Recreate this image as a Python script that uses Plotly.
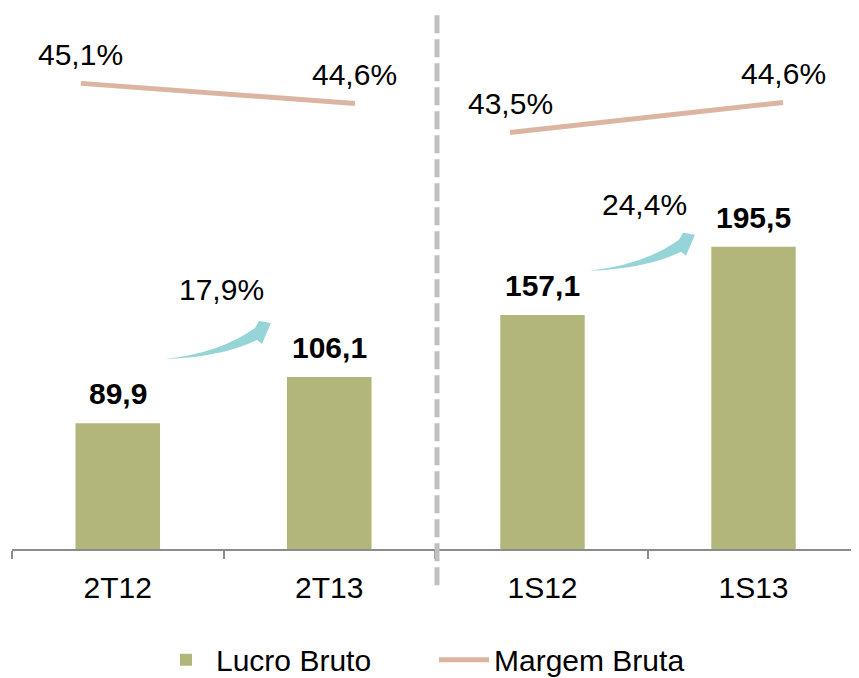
import plotly.graph_objects as go

# Design is expressed in reference-picture pixels (859 x 678).
# The page adds an 8px body margin; the captured picture is ~0.977 of page height.
OFF = 8
SY = 0.977
FW, FH = 843, 678

# ---- data ----
cats_quarter = ["2T12", "2T13"]
cats_semester = ["1S12", "1S13"]
lucro_quarter = [89.9, 106.1]
lucro_semester = [157.1, 195.5]
margem_quarter = [45.1, 44.6]
margem_semester = [43.5, 44.6]
growth = [17.9, 24.4]  # quarter, semester

BAR = "#b2b67a"
LINE = "#dcb5a2"
ARROW = "#95d5d8"
AXIS = "#8c8c8c"
FONT = "Liberation Sans, Arial, sans-serif"


def br(v, pct=False):
    s = f"{v:.1f}".replace(".", ",")
    return s + "%" if pct else s


def FX(x):
    return (x - OFF) / FW


def FY(y):
    return 1 - (y / SY - OFF) / FH


def PXY(d):
    return d / SY


y_dom = [FY(548), FY(10)]
right_end = min(1.0, FX(859))
right_px = (right_end * FW + OFF) - 437  # width of right panel in px

fig = go.Figure()
fig.add_trace(go.Bar(x=cats_quarter, y=lucro_quarter, xaxis="x", yaxis="y",
                     marker=dict(color=BAR, line=dict(width=0)), name="Lucro Bruto",
                     hoverinfo="skip"))
fig.add_trace(go.Bar(x=cats_semester, y=lucro_semester, xaxis="x2", yaxis="y2",
                     marker=dict(color=BAR, line=dict(width=0)), name="Lucro Bruto",
                     showlegend=False, hoverinfo="skip"))
fig.add_trace(go.Scatter(x=cats_quarter, y=margem_quarter, xaxis="x3", yaxis="y3",
                         mode="lines", line=dict(color=LINE, width=5), name="Margem Bruta",
                         hoverinfo="skip"))
fig.add_trace(go.Scatter(x=cats_semester, y=margem_semester, xaxis="x4", yaxis="y4",
                         mode="lines", line=dict(color=LINE, width=5), name="Margem Bruta",
                         showlegend=False, hoverinfo="skip"))

xstyle = dict(type="category", showline=True, linecolor=AXIS,
              linewidth=2, ticks="outside", tickson="boundaries", ticklen=8,
              tickwidth=2, tickcolor=AXIS, showgrid=False, zeroline=False,
              ticklabelstandoff=11,
              tickfont=dict(size=30, color="black", family=FONT), fixedrange=True)

fig.update_layout(
    width=FW, height=FH, autosize=False,
    margin=dict(l=0, r=0, t=0, b=0, pad=0),
    paper_bgcolor="white", plot_bgcolor="white",
    font=dict(family=FONT, color="black", size=30),
    bargap=0.6,
    xaxis=dict(domain=[FX(12), FX(435)], anchor="y", range=[-0.5, 1.5], **xstyle),
    xaxis2=dict(domain=[FX(437), right_end], anchor="y2",
                range=[-0.5, -0.5 + right_px / 211], **xstyle),
    yaxis=dict(domain=y_dom, anchor="x", range=[45.53, 234.97], visible=False),
    yaxis2=dict(domain=y_dom, anchor="x2", range=[25.0, 328.8], visible=False),
    xaxis3=dict(overlaying="x", anchor="y3", type="category",
                range=[-0.2518, 1.292], visible=False),
    yaxis3=dict(overlaying="y", anchor="x3", range=[33.475, 46.925], visible=False),
    xaxis4=dict(overlaying="x2", anchor="y4", type="category",
                range=[-0.2674, -0.2674 + right_px / 273], visible=False),
    yaxis4=dict(overlaying="y2", anchor="x4", range=[28.247, 47.973], visible=False),
    legend=dict(orientation="h", x=FX(156), xanchor="left", y=FY(632), yanchor="top",
                itemwidth=50, entrywidth=213, entrywidthmode="pixels",
                font=dict(size=30, family=FONT, color="black"),
                bgcolor="rgba(0,0,0,0)", traceorder="normal"),
)

ann = []
for cats, vals, xr, yr in [(cats_quarter, lucro_quarter, "x", "y"),
                           (cats_semester, lucro_semester, "x2", "y2")]:
    for c, v in zip(cats, vals):
        ann.append(dict(x=c, y=v, xref=xr, yref=yr, text=f"<b>{br(v)}</b>",
                        showarrow=False, yanchor="bottom", yshift=PXY(11),
                        font=dict(size=30, family=FONT, color="black")))
for cats, vals, xr, yr in [(cats_quarter, margem_quarter, "x3", "y3"),
                           (cats_semester, margem_semester, "x4", "y4")]:
    for c, v in zip(cats, vals):
        ann.append(dict(x=c, y=v, xref=xr, yref=yr, text=br(v, True),
                        showarrow=False, yanchor="bottom", yshift=PXY(10),
                        font=dict(size=30, family=FONT, color="black")))
# growth labels
ann.append(dict(x=0.5, xref="x", y=FY(307), yref="paper", text=br(growth[0], True),
                showarrow=False, yanchor="bottom", xshift=-2,
                font=dict(size=30, family=FONT, color="black")))
ann.append(dict(x=0.5, xref="x2", y=FY(222), yref="paper", text=br(growth[1], True),
                showarrow=False, yanchor="bottom", xshift=-4,
                font=dict(size=30, family=FONT, color="black")))
fig.update_layout(annotations=ann)

# curved growth arrows (decorative)
arrow_rel = [("M", 0, 0), ("Q", 55, -6, 90, -31), ("L", 94, -38), ("L", 106, -36),
             ("L", 97, -15), ("L", 92, -19), ("Q", 57, -2, 0, 0)]


def arrow_path(tx, ty):
    parts = []
    for seg in arrow_rel:
        cmd, nums = seg[0], seg[1:]
        pts = []
        for i in range(0, len(nums), 2):
            pts.append(f"{FX(tx + nums[i]):.5f},{FY(ty + nums[i + 1]):.5f}")
        parts.append(cmd + " " + " ".join(pts))
    return " ".join(parts) + " Z"


shapes = []
for tx, ty in [(165, 358), (589, 270)]:
    shapes.append(dict(type="path", xref="paper", yref="paper", path=arrow_path(tx, ty),
                       fillcolor=ARROW, line=dict(width=0), layer="above"))
# dashed divider
shapes.append(dict(type="line", xref="paper", yref="paper", x0=FX(437), x1=FX(437),
                   y0=FY(15), y1=FY(585),
                   line=dict(color="#c0c0c0", width=5, dash="18px,6px")))
fig.update_layout(shapes=shapes)

fig.write_html("out.html", config={"displayModeBar": False})
